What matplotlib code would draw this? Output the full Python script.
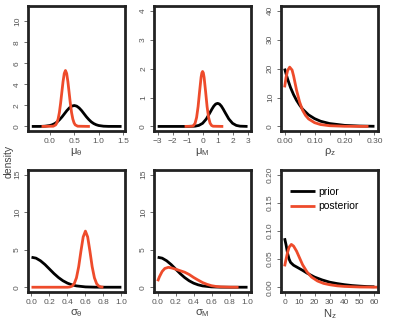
import matplotlib
matplotlib.use('Agg')
import matplotlib.pyplot as plt
import numpy as np

plt.rcParams['font.family'] = ['Liberation Sans', 'DejaVu Sans']

RED = '#EE4B2B'

# mu_theta
mt_prior_x = [-0.37, -0.2, -0.1, 0.0, 0.05, 0.1, 0.15, 0.2, 0.25, 0.3, 0.35, 0.4, 0.45, 0.5,
              0.55, 0.6, 0.65, 0.7, 0.75, 0.8, 0.85, 0.9, 0.95, 1.0, 1.1, 1.2, 1.47]
mt_prior_y = [0.0, 0.001, 0.022, 0.088, 0.16, 0.27, 0.43, 0.65, 0.91, 1.21, 1.51, 1.76, 1.93, 1.99,
              1.93, 1.76, 1.51, 1.21, 0.91, 0.65, 0.43, 0.27, 0.16, 0.088, 0.022, 0.004, 0.0]
mt_post_x = [-0.17, 0.07, 0.12, 0.145, 0.17, 0.195, 0.22, 0.245, 0.27, 0.295, 0.32, 0.345, 0.37,
             0.395, 0.42, 0.445, 0.47, 0.495, 0.52, 0.57, 0.82]
mt_post_y = [0.0, 0.021, 0.15, 0.35, 0.72, 1.32, 2.19, 3.22, 4.25, 5.03, 5.32, 5.03, 4.25,
             3.22, 2.19, 1.32, 0.72, 0.35, 0.15, 0.021, 0.0]

# mu_M
mm_prior_x = [-3.0, -1.0, -0.5, -0.25, 0.0, 0.25, 0.5, 0.625, 0.75, 0.875, 1.0, 1.125, 1.25, 1.375,
              1.5, 1.75, 2.0, 2.25, 2.5, 3.0]
mm_prior_y = [0.0, 0.0, 0.009, 0.035, 0.108, 0.259, 0.484, 0.60, 0.704, 0.774, 0.798, 0.774, 0.704, 0.60,
              0.484, 0.259, 0.108, 0.035, 0.009, 0.0]
mm_post_x = [-1.2, -0.7, -0.6, -0.5, -0.4, -0.3, -0.2, -0.1, -0.05, 0.0, 0.05, 0.1, 0.2, 0.3, 0.4,
             0.5, 0.6, 0.7, 1.38]
mm_post_y = [0.0, 0.007, 0.032, 0.112, 0.31, 0.685, 1.21, 1.70, 1.85, 1.90, 1.85, 1.70, 1.21, 0.685, 0.31,
             0.112, 0.032, 0.007, 0.0]

# rho_z
rz_prior_x = [0.0, 0.01, 0.02, 0.03, 0.04, 0.05, 0.06, 0.08, 0.10, 0.12, 0.15, 0.20, 0.25, 0.30]
rz_prior_y = [20.0, 16.4, 13.4, 11.0, 9.0, 7.4, 6.0, 4.0, 2.7, 1.8, 1.0, 0.37, 0.14, 0.05]
rz_post_x = [0.0, 0.005, 0.01, 0.017, 0.025, 0.03, 0.04, 0.05, 0.06, 0.07, 0.08, 0.10, 0.12, 0.15, 0.20, 0.28]
rz_post_y = [13.5, 17.0, 19.3, 20.5, 19.5, 17.5, 12.5, 8.5, 5.6, 3.8, 2.6, 1.3, 0.65, 0.25, 0.05, 0.0]

# sigma_theta
st_prior_x = [0.0, 0.05, 0.1, 0.15, 0.2, 0.25, 0.3, 0.35, 0.4, 0.45, 0.5, 0.6, 0.7, 0.8, 1.0]
st_prior_y = [3.99, 3.87, 3.52, 3.02, 2.42, 1.82, 1.29, 0.86, 0.54, 0.32, 0.175, 0.044, 0.009, 0.001, 0.0]
st_post_x = [0.0, 0.4, 0.425, 0.45, 0.475, 0.5, 0.525, 0.55, 0.575, 0.6, 0.625, 0.65, 0.675,
             0.7, 0.725, 0.75, 0.775, 0.8]
st_post_y = [0.0, 0.0, 0.032, 0.137, 0.46, 1.25, 2.73, 4.80, 6.69, 7.47, 6.69, 4.80, 2.73,
             1.25, 0.46, 0.137, 0.032, 0.0]

# sigma_M
sm_prior_x = st_prior_x
sm_prior_y = st_prior_y
sm_post_x = [0.0, 0.02, 0.05, 0.08, 0.12, 0.16, 0.2, 0.25, 0.3, 0.35, 0.4, 0.45, 0.5, 0.55,
             0.6, 0.65, 0.7, 0.8, 0.9]
sm_post_y = [0.8, 1.4, 2.1, 2.5, 2.65, 2.55, 2.4, 2.2, 2.0, 1.7, 1.3, 0.95, 0.62, 0.38,
             0.2, 0.1, 0.05, 0.01, 0.0]

# N_z
nz_prior_x = [0, 1, 2, 3, 4, 6, 8, 10, 12, 15, 20, 25, 30, 35, 40, 45, 50, 55, 60]
nz_prior_y = [0.087, 0.075, 0.06, 0.05, 0.044, 0.039, 0.036, 0.033, 0.03, 0.025, 0.018, 0.013,
              0.009, 0.0065, 0.0045, 0.003, 0.002, 0.0012, 0.0008]
nz_post_x = [0, 1, 2, 3, 4.5, 6, 8, 10, 12, 15, 18, 22, 26, 30, 35, 40, 50, 65]
nz_post_y = [0.037, 0.05, 0.062, 0.071, 0.076, 0.073, 0.064, 0.052, 0.04, 0.027, 0.018, 0.011,
             0.0068, 0.0045, 0.0025, 0.0014, 0.0004, 0.0]

panels = [
    (mt_prior_x, mt_prior_y, mt_post_x, mt_post_y, r'$\mathregular{\mu_\theta}$',
     (-0.45, 1.54), (-0.44, 11.44), [0.0, 0.5, 1.0, 1.5], ['0.0', '0.5', '1.0', '1.5'], [0, 2, 4, 6, 8, 10]),
    (mm_prior_x, mm_prior_y, mm_post_x, mm_post_y, r'$\mathregular{\mu_M}$',
     (-3.24, 3.24), (-0.16, 4.16), [-3, -2, -1, 0, 1, 2, 3], ['\u22123', '\u22122', '\u22121', '0', '1', '2', '3'], [0, 1, 2, 3, 4]),
    (rz_prior_x, rz_prior_y, rz_post_x, rz_post_y, r'$\mathregular{\rho_z}$',
     (-0.012, 0.312), (-1.6, 41.6), [0.0, 0.05, 0.1, 0.15, 0.2, 0.25, 0.3],
     ['0.00', '', '0.10', '', '0.20', '', '0.30'], [0, 10, 20, 30, 40]),
    (st_prior_x, st_prior_y, st_post_x, st_post_y, r'$\mathregular{\sigma_\theta}$',
     (-0.04, 1.04), (-0.6, 15.6), [0, 0.2, 0.4, 0.6, 0.8, 1.0], ['0.0', '0.2', '0.4', '0.6', '0.8', '1.0'], [0, 5, 10, 15]),
    (sm_prior_x, sm_prior_y, sm_post_x, sm_post_y, r'$\mathregular{\sigma_M}$',
     (-0.04, 1.04), (-0.6, 15.6), [0, 0.2, 0.4, 0.6, 0.8, 1.0], ['0.0', '0.2', '0.4', '0.6', '0.8', '1.0'], [0, 5, 10, 15]),
    (nz_prior_x, nz_prior_y, nz_post_x, nz_post_y, r'$\mathregular{N_z}$',
     (-2.4, 62.4), (-0.008, 0.208), [0, 10, 20, 30, 40, 50, 60], ['0', '10', '20', '30', '40', '50', '60'],
     [0.0, 0.05, 0.1, 0.15, 0.2]),
]

fig = plt.figure(figsize=(3.93, 3.22), dpi=100)
lefts = [0.071, 0.392, 0.715]
rows = [(0.593, 0.388), (0.094, 0.378)]

for i, (px, py, qx, qy, lab, xl, yl, xt, xtl, yt) in enumerate(panels):
    r, c = divmod(i, 3)
    ax = fig.add_axes([lefts[c], rows[r][0], 0.247, rows[r][1]])
    ax.plot(px, py, color='black', lw=2, label='prior', solid_capstyle='butt')
    ax.plot(qx, qy, color=RED, lw=2, label='posterior', solid_capstyle='butt')
    ax.set_xlim(xl)
    ax.set_ylim(yl)
    ax.set_xticks(xt)
    ax.set_xticklabels(xtl)
    ax.set_yticks(yt)
    if i == 5:
        ax.set_yticklabels(['%.2f' % v for v in yt])
    else:
        ax.set_yticklabels([str(v) for v in yt])
    for lbl in ax.get_yticklabels():
        lbl.set_rotation(90)
        lbl.set_va('center')
    ax.tick_params(direction='out', length=3, width=0.6, color='#555555',
                   labelsize=6, labelcolor='#555555', pad=2)
    for s in ax.spines.values():
        s.set_linewidth(2)
        s.set_color('#222222')
    ax.set_xlabel(lab, fontsize=8, color='#444444', labelpad=1)
    if i == 5:
        ax.legend(loc='upper left', frameon=False, fontsize=7.5, handlelength=2.4,
                  handletextpad=0.3, borderaxespad=0.3, labelspacing=0.4,
                  bbox_to_anchor=(0.02, 0.92))

fig.text(0.022, 0.5, 'density', rotation=90, ha='center', va='center', fontsize=7.5, color='#444444')

fig.savefig('out.png', dpi=100)
